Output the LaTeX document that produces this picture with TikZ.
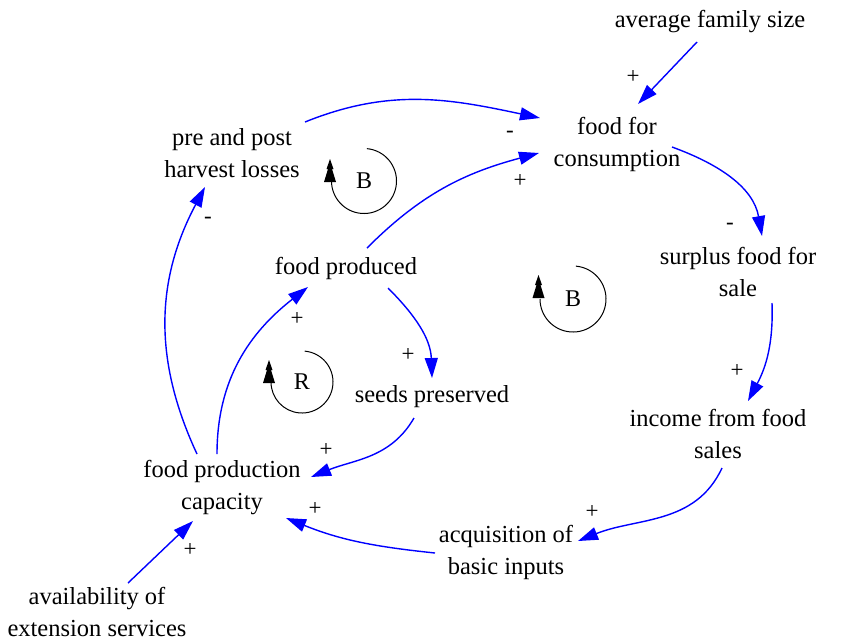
\documentclass[tikz,border=0pt]{standalone}
\usepackage{fontspec}
\setmainfont{Liberation Serif}
\usetikzlibrary{arrows.meta,calc}
\tikzset{
  var/.style={font=\fontsize{24.5}{32}\selectfont, align=center, inner sep=0pt},
  link/.style={draw=blue, line width=1.4pt, -{Triangle[length=20pt,width=13pt]}, fill=none},
  pol/.style={font=\fontsize{23}{23}\selectfont, inner sep=0pt},
  looplbl/.style={font=\fontsize{24}{24}\selectfont, inner sep=0pt},
  loopline/.style={draw=black, line width=1pt},
}
\newcommand{\looptip}[1]{%
  \fill[black] #1 -- ++(-3.5,-10) -- ++(1.5,0) -- ++(-4,-13) -- ++(12,0) -- ++(-4,13) -- ++(1.5,0) -- cycle;}
\begin{document}
\begin{tikzpicture}[x=1pt,y=1pt]
\useasboundingbox (0,0) rectangle (851,-641);
% variables
\node[var] (avg) at (710,-22) {average family size};
\node[var] (ffc) at (617,-144) {food for\\consumption};
\node[var] (ppl) at (232,-153) {pre and post\\harvest losses};
\node[var] (sfs) at (738,-272) {surplus food for\\sale};
\node[var] (fp)  at (346,-268) {food produced};
\node[var] (sp)  at (432,-397) {seeds preserved};
\node[var] (ifs) at (718,-434) {income from food\\sales};
\node[var] (fpc) at (222,-488) {food production\\capacity};
\node[var] (abi) at (506,-552) {acquisition of\\basic inputs};
\node[var] (aes) at (97,-612) {availability of\\extension services};
% links
\draw[link] ($(avg)+(-13,-20)$) -- ($(ffc)+(21,40)$);
\draw[link] ($(ppl)+(73,31)$) to[out=22,in=168] ($(ffc)+(-77,26)$);
\draw[link] ($(fp)+(21,20)$) to[out=45,in=-165] ($(ffc)+(-78,-9)$);
\draw[link] ($(ffc)+(55,-3)$) to[out=-20,in=100] ($(sfs)+(24,36)$);
\draw[link] ($(sfs)+(34,-31)$) to[out=-88,in=62] ($(ifs)+(30,33)$);
\draw[link] ($(ifs)+(4,-34)$) to[out=-115,in=22] ($(abi)+(72,11)$);
\draw[link] ($(abi)+(-71,-1)$) to[out=174,in=-22] ($(fpc)+(64,-30)$);
\draw[link] ($(aes)+(31,29)$) -- ($(fpc)+(-29,-33)$);
\draw[link] ($(fpc)+(-25,34)$) to[out=115,in=-118] ($(ppl)+(-27,-34)$);
\draw[link] ($(fpc)+(-5,34)$) to[out=90,in=-142] ($(fp)+(-38,-19)$);
\draw[link] ($(fp)+(42,-20)$) to[out=-45,in=92] ($(sp)+(0,19)$);
\draw[link] ($(sp)+(-18,-21)$) to[out=-120,in=22] ($(fpc)+(89,11)$);
% polarities
\node[pol] (p1) at (633,-77) {+};
\node[pol] (p2) at (510,-134) {-};
\node[pol] (p3) at (520,-181) {+};
\node[pol] (p4) at (730,-226) {-};
\node[pol] (p5) at (737,-371) {+};
\node[pol] (p6) at (592,-512) {+};
\node[pol] (p7) at (315,-509) {+};
\node[pol] (p8) at (190,-550) {+};
\node[pol] (p9) at (208,-220) {-};
\node[pol] (p10) at (297,-319) {+};
\node[pol] (p11) at (408,-355) {+};
\node[pol] (p12) at (326,-450) {+};
% loops
\node[looplbl] (lb1) at (364,-181) {B};
\draw[loopline] ($(lb1)+(85:32.5)$) arc[start angle=85,end angle=-180,radius=32.5];
\looptip{($(lb1)+(-34,22)$)}
\node[looplbl] (lb2) at (573,-299) {B};
\draw[loopline] ($(lb2)+(85:33)$) arc[start angle=85,end angle=-180,radius=33];
\looptip{($(lb2)+(-34.5,24)$)}
\node[looplbl] (lr) at (302,-382) {R};
\draw[loopline] ($(lr)+(85:31)$) arc[start angle=85,end angle=-180,radius=31];
\looptip{($(lr)+(-33,22)$)}
\end{tikzpicture}
\end{document}
